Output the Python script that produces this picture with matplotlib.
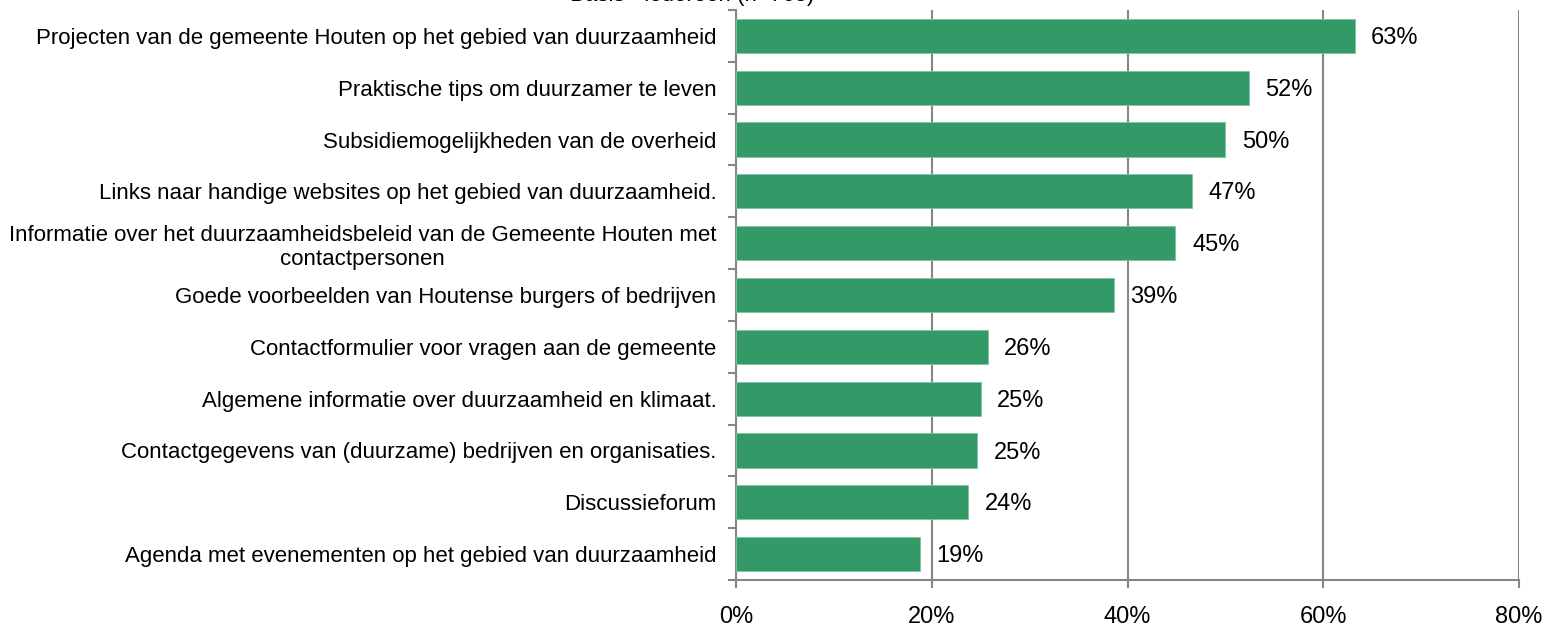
import matplotlib.pyplot as plt
from matplotlib.ticker import FixedLocator, PercentFormatter

categories = [
    "Projecten van de gemeente Houten op het gebied van duurzaamheid",
    "Praktische tips om duurzamer te leven",
    "Subsidiemogelijkheden van de overheid",
    "Links naar handige websites op het gebied van duurzaamheid.",
    "Informatie over het duurzaamheidsbeleid van de Gemeente Houten met\ncontactpersonen",
    "Goede voorbeelden van Houtense burgers of bedrijven",
    "Contactformulier voor vragen aan de gemeente",
    "Algemene informatie over duurzaamheid en klimaat.",
    "Contactgegevens van (duurzame) bedrijven en organisaties.",
    "Discussieforum",
    "Agenda met evenementen op het gebied van duurzaamheid",
]
values = [63.2, 52.4, 50.0, 46.6, 44.9, 38.6, 25.7, 25.0, 24.6, 23.7, 18.8]
labels = ["63%", "52%", "50%", "47%", "45%", "39%", "26%", "25%", "25%", "24%", "19%"]
title = "Basis - iedereen (n=765)"

plt.rcParams['font.family'] = ['Liberation Sans', 'DejaVu Sans']
green = "#339966"
grey = "#868686"

fig = plt.figure(figsize=(15.48, 6.32), dpi=100)
ax = fig.add_axes([736 / 1548, 1 - 580 / 632, (1519 - 736) / 1548, 570 / 632])

pos = list(range(len(categories)))
ax.barh(pos, values, height=0.66, color=green, edgecolor="#7fc3a0", linewidth=0.6, zorder=3)
for p, v, lab in zip(pos, values, labels):
    ax.annotate(lab, (v, p), xytext=(12, -1.5), textcoords="offset points",
                ha="left", va="center", fontsize=17)

ax.set_xlim(0, 80)
ax.set_ylim(10.5, -0.5)
ax.set_xticks([0, 20, 40, 60, 80])
ax.xaxis.set_major_formatter(PercentFormatter(decimals=0))
ax.set_yticks(pos)
ax.set_yticklabels(categories, fontsize=16, multialignment="center")
ax.yaxis.set_minor_locator(FixedLocator([p - 0.5 for p in pos] + [10.5]))
ax.tick_params(axis="y", which="major", length=0, pad=14)
ax.tick_params(axis="y", which="minor", length=6, width=1.5, color=grey, direction="out")
ax.tick_params(axis="x", length=6, width=1.5, color=grey, direction="out", pad=13, labelsize=17)

ax.grid(axis="x", color=grey, linewidth=1.5, zorder=0)
for s in ["top", "right"]:
    ax.spines[s].set_visible(False)
for s in ["left", "bottom"]:
    ax.spines[s].set_color(grey)
    ax.spines[s].set_linewidth(1.5)

# title sits mostly above the figure edge, as in the source image
fig.text(692 / 1548, 1 - 1 / 632, title, ha="center", va="baseline", fontsize=16)

fig.savefig("out.png", dpi=100)
